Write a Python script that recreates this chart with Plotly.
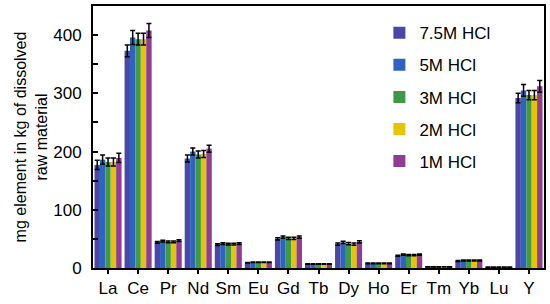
import plotly.graph_objects as go

elements = ["La", "Ce", "Pr", "Nd", "Sm", "Eu", "Gd", "Tb", "Dy", "Ho", "Er", "Tm", "Yb", "Lu", "Y"]
series_names = ["7.5M HCl", "5M HCl", "3M HCl", "2M HCl", "1M HCl"]
colors = ["#4B47A6", "#2F63C0", "#3E9A48", "#E6C400", "#8E3C96"]

v_75 = [177, 373, 44, 188, 40, 9, 50, 7, 41, 8, 21, 2, 12, 1.5, 292]
v_5 = [186, 396, 46, 200, 42, 10, 53, 7, 44, 8, 23, 2, 13, 1.5, 305]
v_3 = [182, 393, 45, 195, 41, 10, 51, 7, 42, 8, 22, 2, 13, 1.5, 297]
v_2 = [182, 393, 45, 196, 41, 10, 51, 7, 41, 8, 22, 2, 13, 1.5, 297]
v_1 = [189, 408, 47, 205, 42, 10, 53, 7, 45, 8, 23, 2, 13, 1.5, 312]

e_75 = [8, 10, 1.5, 6, 1.5, 0.5, 2, 0.5, 2, 0.5, 1, 0.2, 0.8, 0.2, 8]
e_5 = [8, 12, 1.5, 6, 1.5, 0.5, 2, 0.5, 2, 0.5, 1, 0.2, 0.8, 0.2, 10]
e_3 = [7, 10, 1.5, 6, 1.5, 0.5, 2, 0.5, 2, 0.5, 1, 0.2, 0.8, 0.2, 8]
e_2 = [7, 10, 1.5, 6, 1.5, 0.5, 2, 0.5, 2, 0.5, 1, 0.2, 0.8, 0.2, 8]
e_1 = [8, 12, 1.5, 6, 1.5, 0.5, 2, 0.5, 2, 0.5, 1, 0.2, 0.8, 0.2, 10]

values = [v_75, v_5, v_3, v_2, v_1]
errors = [e_75, e_5, e_3, e_2, e_1]

fig = go.Figure()
for name, col, v, e in zip(series_names, colors, values, errors):
    fig.add_trace(go.Bar(
        x=elements, y=v, name=name, legendgroup=name,
        marker=dict(color=col, line=dict(width=0)),
        error_y=dict(type="data", array=e, color="black", thickness=1.5, width=2.5),
    ))

fig.update_layout(
    width=550, height=304,
    margin=dict(l=93, r=5, t=4, b=36),
    paper_bgcolor="white", plot_bgcolor="white",
    barmode="group", bargap=0.1, bargroupgap=0,
    font=dict(family="Liberation Sans, Arial, sans-serif", color="black"),
    showlegend=True,
    legend=dict(x=0.635, y=0.965, xanchor="left", yanchor="top",
                font=dict(size=17), tracegroupgap=7,
                bgcolor="rgba(0,0,0,0)", itemwidth=30),
    xaxis=dict(
        range=[-0.5, 14.5], showline=True, linecolor="black", linewidth=2,
        mirror=True, ticks="outside", ticklen=4, tickwidth=2, tickcolor="black",
        tickfont=dict(size=17), showgrid=False,
    ),
    yaxis=dict(
        range=[0, 450], showline=True, linecolor="black", linewidth=2,
        mirror=True, ticks="inside", ticklen=5, tickwidth=2, tickcolor="black",
        tickvals=[0, 100, 200, 300, 400], tickfont=dict(size=17),
        minor=dict(tickvals=[50, 150, 250, 350], ticks="inside", ticklen=5, tickwidth=2, tickcolor="black"),
        showgrid=False, zeroline=False, ticklabelstandoff=6,
        title=dict(text="mg element in kg of dissolved<br>raw material", font=dict(size=16), standoff=2),
    ),
)

fig.write_html("out.html")
